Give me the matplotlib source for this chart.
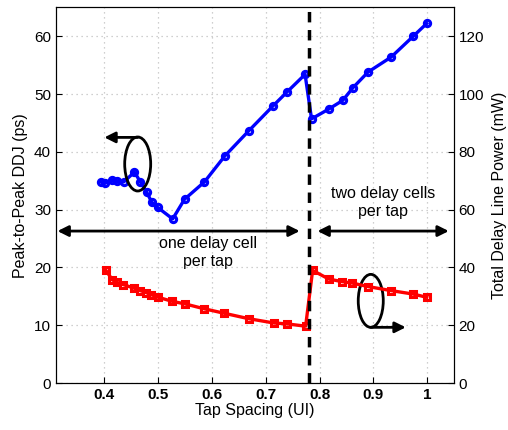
import numpy as np
import matplotlib
matplotlib.use("Agg")
from matplotlib import pyplot as plt
from matplotlib.patches import Ellipse

plt.rcParams['font.family'] = ['Liberation Sans', 'DejaVu Sans']

# peak-to-peak DDJ (left axis, ps)
ddj_x = [0.393, 0.402, 0.415, 0.423, 0.436, 0.456, 0.467, 0.479, 0.488, 0.499,
         0.527, 0.549, 0.586, 0.624, 0.668, 0.714, 0.740, 0.773,
         0.785, 0.817, 0.843, 0.862, 0.890, 0.933, 0.974, 0.999]
ddj_y = [34.8, 34.6, 35.1, 34.9, 34.8, 36.5, 34.8, 33.0, 31.3, 30.4,
         28.4, 31.8, 34.8, 39.3, 43.6, 48.0, 50.4, 53.4,
         45.7, 47.4, 48.9, 51.1, 53.8, 56.4, 60.0, 62.2]

# total delay line power (right axis, mW)
pwr_x = [0.403, 0.415, 0.423, 0.435, 0.456, 0.467, 0.478, 0.487, 0.500, 0.526,
         0.550, 0.586, 0.622, 0.668, 0.715, 0.739, 0.774,
         0.787, 0.817, 0.842, 0.861, 0.890, 0.933, 0.974, 0.999]
pwr_y = [39.0, 35.7, 34.9, 34.1, 32.8, 32.0, 31.3, 30.6, 29.7, 28.3,
         27.4, 25.7, 24.2, 22.3, 20.8, 20.5, 19.7,
         39.0, 36.0, 35.1, 34.6, 33.4, 32.0, 30.8, 29.7]

x_ticks = [0.4, 0.5, 0.6, 0.7, 0.8, 0.9, 1.0]
x_labels = ['0.4', '0.5', '0.6', '0.7', '0.8', '0.9', '1']
left_ticks = [0, 10, 20, 30, 40, 50, 60]
right_ticks = [0, 20, 40, 60, 80, 100, 120]
split_x = 0.78

fig = plt.figure(figsize=(5.08, 4.30), dpi=100)
ax = fig.add_axes([0.110, 0.109, 0.783, 0.874])
ax2 = ax.twinx()

ax.plot(ddj_x, ddj_y, color='b', lw=2.4, marker='o', ms=4.5,
        mfc='none', mec='b', mew=2.2)
ax2.plot(pwr_x, pwr_y, color='r', lw=2.4, marker='s', ms=4.2,
         mfc='none', mec='r', mew=2.2)

ax.set_xlim(0.31, 1.049)
ax.set_ylim(0, 65)
ax2.set_ylim(0, 130)

ax.set_xticks(x_ticks)
ax.set_xticklabels(x_labels)
ax.set_yticks(left_ticks)
ax2.set_yticks(right_ticks)

ax.grid(True, color='#c0c0c0', linestyle=(0, (1, 3)), lw=0.9)
ax.tick_params(direction='in', length=4, labelsize=11, width=0.8)
ax2.tick_params(direction='in', length=4, labelsize=11, width=0.8)
for lab in ax.get_xticklabels():
    lab.set_fontweight('bold')

ax.set_xlabel('Tap Spacing (UI)', fontsize=11.5, labelpad=1)
ax.set_ylabel('Peak-to-Peak DDJ (ps)', fontsize=11.5, labelpad=4)
ax2.set_ylabel('Total Delay Line Power (mW)', fontsize=11.5, labelpad=6)

# divider between the two regimes
ax2.axvline(split_x, color='k', lw=2.5, linestyle=(0, (3, 2.2)))

t = ax.transData
arrow = dict(arrowstyle='-|>', color='k', lw=2, mutation_scale=16,
             shrinkA=0, shrinkB=0)
darrow = dict(arrowstyle='<|-|>', color='k', lw=2, mutation_scale=16,
              shrinkA=0, shrinkB=0)

ax2.annotate('', xy=(0.313, 26.3), xytext=(0.763, 26.3),
             xycoords=t, textcoords=t, arrowprops=darrow)
ax2.annotate('', xy=(0.796, 26.3), xytext=(1.040, 26.3),
             xycoords=t, textcoords=t, arrowprops=darrow)

ax2.text(0.592, 22.6, 'one delay cell\nper tap', transform=t, ha='center',
         va='center', fontsize=11.5, linespacing=1.25)
ax2.text(0.918, 31.2, 'two delay cells\nper tap', transform=t, ha='center',
         va='center', fontsize=11.5, linespacing=1.25)

# ellipses pointing at the corresponding axes
ax2.add_patch(Ellipse((0.462, 37.9), 0.0483, 9.34, transform=t,
                      fill=False, ec='k', lw=2))
ax2.annotate('', xy=(0.400, 42.5), xytext=(0.462, 42.5),
             xycoords=t, textcoords=t, arrowprops=arrow)
ax2.add_patch(Ellipse((0.895, 14.23), 0.0465, 9.16, transform=t,
                      fill=False, ec='k', lw=2))
ax2.annotate('', xy=(0.960, 9.65), xytext=(0.895, 9.65),
             xycoords=t, textcoords=t, arrowprops=arrow)

fig.savefig('out.png', dpi=100)
